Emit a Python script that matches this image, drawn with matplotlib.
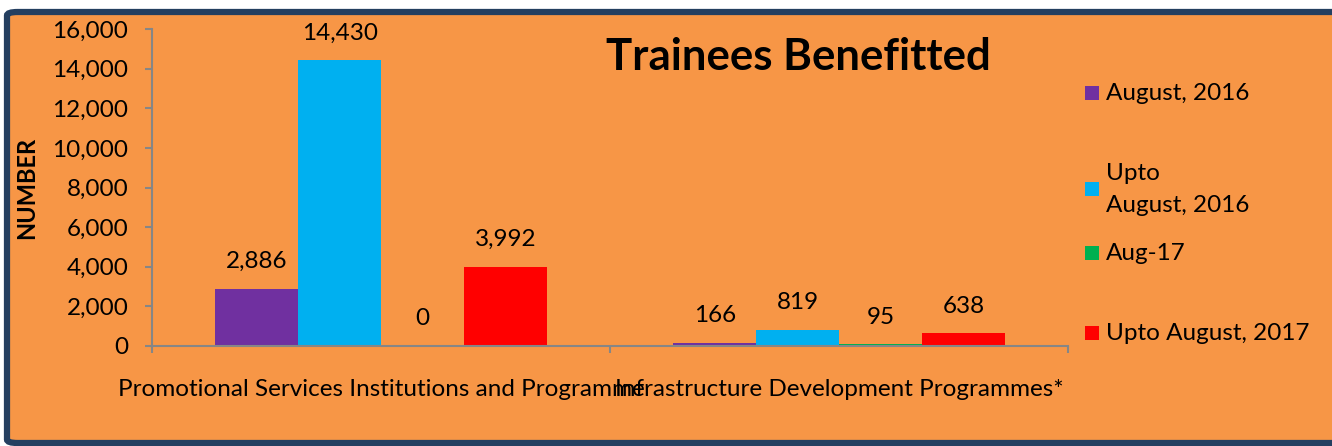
import numpy as np
import matplotlib
matplotlib.use('Agg')
import matplotlib.pyplot as plt
from matplotlib.patches import FancyBboxPatch, Rectangle

categories = ['Promotional Services Institutions and Programme',
              'Infrastructure Development Programmes*']
series = ['August, 2016', 'Upto\nAugust, 2016', 'Aug-17', 'Upto August, 2017']
values = [
    [2886, 166],
    [14430, 819],
    [0, 95],
    [3992, 638],
]
colors = ['#7030A0', '#00B0F0', '#00B050', '#FF0000']
yticks = [0, 2000, 4000, 6000, 8000, 10000, 12000, 14000, 16000]

ORANGE = '#F79646'
NAVY = '#243F60'
W, H = 1332, 446
FS = 17.5
plt.rcParams['font.family'] = ['Lato', 'DejaVu Sans']

fig = plt.figure(figsize=(W / 100, H / 100), dpi=100, facecolor='white')
# rounded frame behind everything
frame = FancyBboxPatch((7 / W, 3 / H), (W + 30) / W, (H - 15) / H,
                       boxstyle='round,pad=0,rounding_size=0.008',
                       transform=fig.transFigure, facecolor=ORANGE,
                       edgecolor=NAVY, lw=4.5, zorder=-10)
fig.patches.append(frame)

ax = fig.add_axes([152 / W, 1 - 346 / H, (1068 - 152) / W, (346 - 29) / H])
ax.set_facecolor('none')
ax.set_zorder(2)
x = np.arange(len(categories))
bw = 0.181
for i, (s, v, c) in enumerate(zip(series, values, colors)):
    bars = ax.bar(x + (i - 1.5) * bw, v, bw, color=c, label=s)
    for b, val in zip(bars, v):
        ax.annotate(f'{val:,}', (b.get_x() + b.get_width() / 2, val),
                    xytext=(0, 19.5), textcoords='offset points',
                    ha='center', va='center', fontsize=FS)

ax.set_xlim(-0.5, 1.5)
ax.set_ylim(0, 16000)
ax.set_yticks(yticks)
ax.set_yticklabels([f'{t:,}' for t in yticks], fontsize=FS)
ax.set_xticks([-0.5, 0.5, 1.5])
ax.set_xticklabels([])
ax.tick_params(axis='both', colors='#868686', labelcolor='black',
               length=5, width=1.5, direction='out')
ax.tick_params(axis='y', pad=12)
for sp in ['top', 'right']:
    ax.spines[sp].set_visible(False)
for sp in ['left', 'bottom']:
    ax.spines[sp].set_color('#868686')
    ax.spines[sp].set_linewidth(1.5)
for xi, cat in zip(x, categories):
    ax.text(xi, -44 / 317 * 16000, cat, ha='center', va='center',
            fontsize=FS)
ax.set_ylabel('NUMBER', fontsize=17, fontweight='bold')
ax.yaxis.set_label_coords(-(152 - 38) / (1068 - 152), 0.5)

fig.text(798 / W, 1 - 57 / H, 'Trainees Benefitted', ha='center',
         va='center', fontsize=31.5, fontweight='bold')

# legend entries
leg_y = [93, 189, 253, 333]
for s, c, ly in zip(series, colors, leg_y):
    fig.patches.append(Rectangle((1085 / W, 1 - (ly + 7) / H), 14 / W, 14 / H,
                                 transform=fig.transFigure, facecolor=c,
                                 edgecolor='none'))
    lines = s.split('\n')
    if len(lines) == 1:
        fig.text(1106 / W, 1 - ly / H, s, ha='left', va='center', fontsize=FS)
    else:
        fig.text(1106 / W, 1 - 173 / H, lines[0], ha='left', va='center',
                 fontsize=FS)
        fig.text(1106 / W, 1 - 205 / H, lines[1], ha='left', va='center',
                 fontsize=FS)

fig.savefig('out.png', dpi=100, facecolor=fig.get_facecolor())
